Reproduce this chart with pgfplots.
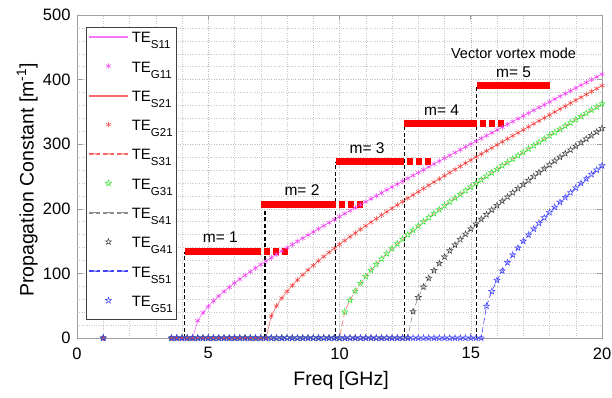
\documentclass[border=0pt]{standalone}
\usepackage{pgfplots}
\pgfplotsset{compat=1.18}
\usepackage{pgfplotstable}
\usepackage{fontspec}
\setmainfont{Liberation Sans}

\definecolor{mline}{rgb}{0.97,0.45,0.97}
\definecolor{mmark}{rgb}{0.95,0.25,0.95}
\definecolor{rline}{rgb}{0.97,0.40,0.40}
\definecolor{rmark}{rgb}{0.95,0.25,0.25}
\definecolor{gmark}{rgb}{0.20,0.90,0.20}
\definecolor{kmark}{rgb}{0.25,0.25,0.25}
\definecolor{bmark}{rgb}{0.25,0.25,1.00}
\definecolor{kline}{rgb}{0.55,0.55,0.55}

\pgfdeclareplotmark{pent}{%
  \pgfpathmoveto{\pgfpointpolar{90}{\pgfplotmarksize}}%
  \pgfpathlineto{\pgfpointpolar{126}{0.40\pgfplotmarksize}}%
  \pgfpathlineto{\pgfpointpolar{162}{\pgfplotmarksize}}%
  \pgfpathlineto{\pgfpointpolar{198}{0.40\pgfplotmarksize}}%
  \pgfpathlineto{\pgfpointpolar{234}{\pgfplotmarksize}}%
  \pgfpathlineto{\pgfpointpolar{270}{0.40\pgfplotmarksize}}%
  \pgfpathlineto{\pgfpointpolar{306}{\pgfplotmarksize}}%
  \pgfpathlineto{\pgfpointpolar{342}{0.40\pgfplotmarksize}}%
  \pgfpathlineto{\pgfpointpolar{18}{\pgfplotmarksize}}%
  \pgfpathlineto{\pgfpointpolar{54}{0.40\pgfplotmarksize}}%
  \pgfpathclose\pgfusepathqstroke}

\newcommand{\TE}[1]{\hspace{3pt}TE\raisebox{-6pt}{\fontsize{11.5}{11.5}\selectfont #1}}

\pgfplotsset{
  legsolid/.style={legend image code/.code={\fill[#1] (0pt,4pt) rectangle (38pt,5pt);}},
  legdash/.style={legend image code/.code={\fill[#1] (0pt,4pt) rectangle (10pt,5pt) (14pt,4pt) rectangle (24pt,5pt) (28pt,4pt) rectangle (38pt,5pt);}},
}

\pgfplotstableread{
f b1 b2 b3 b4 b5
1.0 0 0 0 0 0
3.6 0 0 0 0 0
3.8 0 0 0 0 0
4.0 0 0 0 0 0
4.2 0 0 0 0 0
4.4 0 0 0 0 0
4.6 26.7 0 0 0 0
4.8 39.2 0 0 0 0
5.0 48.9 0 0 0 0
5.2 57.4 0 0 0 0
5.4 65.0 0 0 0 0
5.6 72.0 0 0 0 0
5.8 78.6 0 0 0 0
6.0 85.0 0 0 0 0
6.2 91.0 0 0 0 0
6.4 96.9 0 0 0 0
6.6 102.6 0 0 0 0
6.8 108.2 0 0 0 0
7.0 113.7 0 0 0 0
7.2 119.0 0 0 0 0
7.4 124.3 34.0 0 0 0
7.6 129.5 49.7 0 0 0
7.8 134.6 61.8 0 0 0
8.0 139.7 72.2 0 0 0
8.2 144.7 81.4 0 0 0
8.4 149.6 89.9 0 0 0
8.6 154.5 97.9 0 0 0
8.8 159.4 105.4 0 0 0
9.0 164.2 112.5 0 0 0
9.2 169.0 119.4 0 0 0
9.4 173.8 126.1 0 0 0
9.6 178.5 132.5 0 0 0
9.8 183.2 138.8 0 0 0
10.0 187.9 144.9 0 0 0
10.2 192.5 150.9 40.5 0 0
10.4 197.2 156.8 58.7 0 0
10.6 201.8 162.5 72.7 0 0
10.8 206.4 168.2 84.7 0 0
11.0 211.0 173.8 95.3 0 0
11.2 215.5 179.3 105.0 0 0
11.4 220.1 184.8 114.1 0 0
11.6 224.6 190.2 122.6 0 0
11.8 229.2 195.5 130.7 0 0
12.0 233.7 200.7 138.5 0 0
12.2 238.2 206.0 145.9 0 0
12.4 242.6 211.1 153.1 0 0
12.6 247.1 216.3 160.1 0 0
12.8 251.6 221.4 166.9 41.0 0
13.0 256.0 226.4 173.6 62.8 0
13.2 260.5 231.4 180.1 79.0 0
13.4 264.9 236.4 186.5 92.6 0
13.6 269.4 241.4 192.7 104.6 0
13.8 273.8 246.3 198.8 115.6 0
14.0 278.2 251.2 204.9 125.7 0
14.2 282.6 256.1 210.8 135.1 0
14.4 287.0 260.9 216.7 144.1 0
14.6 291.4 265.8 222.5 152.7 0
14.8 295.8 270.6 228.2 160.9 0
15.0 300.2 275.4 233.9 168.9 0
15.2 304.6 280.1 239.5 176.5 0
15.4 309.0 284.9 245.0 184.0 0
15.6 313.3 289.6 250.5 191.2 49.4
15.8 317.7 294.3 255.9 198.3 72.1
16.0 322.1 299.0 261.3 205.2 89.4
16.2 326.4 303.7 266.7 212.0 104.0
16.4 330.8 308.4 272.0 218.6 116.9
16.6 335.1 313.1 277.3 225.1 128.7
16.8 339.5 317.7 282.5 231.6 139.6
17.0 343.8 322.3 287.7 237.9 149.9
17.2 348.1 327.0 292.9 244.1 159.6
17.4 352.5 331.6 298.0 250.2 168.8
17.6 356.8 336.2 303.1 256.3 177.7
17.8 361.1 340.8 308.2 262.3 186.2
18.0 365.5 345.3 313.3 268.2 194.5
18.2 369.8 349.9 318.3 274.1 202.5
18.4 374.1 354.5 323.3 279.9 210.2
18.6 378.4 359.0 328.3 285.6 217.8
18.8 382.7 363.6 333.2 291.3 225.2
19.0 387.0 368.1 338.2 296.9 232.5
19.2 391.3 372.6 343.1 302.5 239.6
19.4 395.6 377.1 348.0 308.1 246.5
19.6 399.9 381.6 352.9 313.6 253.4
19.8 404.2 386.1 357.7 319.0 260.1
20.0 408.5 390.6 362.6 324.5 266.7
}\modes

\begin{document}
\begin{tikzpicture}
\useasboundingbox (-77pt,-59pt) rectangle (535pt,338pt);
\begin{axis}[
  scale only axis, width=525pt, height=323pt,
  at={(0pt,0pt)}, anchor=south west,
  xmin=0, xmax=20, ymin=0, ymax=500,
  xtick={0,5,10,15,20}, ytick={0,100,200,300,400,500},
  minor x tick num=4, minor y tick num=4,
  grid=both,
  major grid style={dotted, gray!55, line width=0.5pt},
  minor grid style={dotted, gray!45, line width=0.5pt},
  axis line style={gray!75, line width=0.7pt},
  tick style={gray!75, line width=0.6pt},
  tick align=inside, tick pos=both,
  major tick length=5pt, minor tick length=0pt,
  /pgf/number format/assume math mode=true,
  ticklabel style={font=\fontsize{16.5}{16.5}\selectfont},
  xticklabel style={yshift=-6pt},
  yticklabel style={xshift=-3pt},
  xlabel={Freq [GHz]},
  ylabel={Propagation Constant [m\textsuperscript{-1}]},
  label style={font=\fontsize{19.5}{19.5}\selectfont},
  xlabel style={at={(axis description cs:0.503,-0.130)}, anchor=center},
  ylabel style={at={(axis description cs:-0.095,0.489)}, anchor=center, rotate=0},
  legend image code/.code={\draw[mark repeat=2,mark phase=2,#1] plot coordinates {(0pt,4.5pt) (19pt,4.5pt) (38pt,4.5pt)};},
  legend style={at={(axis description cs:0.017,0.963)}, anchor=north west,
    draw=black!75, line width=0.5pt, fill=white,
    font=\fontsize{15}{15}\selectfont,
    inner xsep=3pt, inner ysep=3.5pt, row sep=8.3pt,
    nodes={inner sep=1pt, text height=11pt, text depth=8pt}},
  legend cell align=left,
]
% TE_S11 / TE_G11
\addplot[mline, line width=0.6pt, mark=none, restrict x to domain=3:21,
  legsolid=mline] table[x=f,y=b1] {\modes};
\addlegendentry{\TE{S11}}
\addplot[only marks, mmark, mark=asterisk, mark size=2.8pt, line width=0.5pt] table[x=f,y=b1] {\modes};
\addlegendentry{\TE{G11}}
% TE_S21 / TE_G21
\addplot[rline, line width=0.6pt, mark=none, restrict x to domain=3:21,
  legsolid=rline] table[x=f,y=b2] {\modes};
\addlegendentry{\TE{S21}}
\addplot[only marks, rmark, mark=asterisk, mark size=2.8pt, line width=0.5pt] table[x=f,y=b2] {\modes};
\addlegendentry{\TE{G21}}
% TE_S31 / TE_G31
\addplot[rline, line width=0.6pt, dash pattern=on 6pt off 3pt, mark=none, restrict x to domain=3:21,
  legdash=rline] table[x=f,y=b3] {\modes};
\addlegendentry{\TE{S31}}
\addplot[only marks, gmark, mark=pent, mark size=3.2pt, line width=0.5pt] table[x=f,y=b3] {\modes};
\addlegendentry{\TE{G31}}
% TE_S41 / TE_G41
\addplot[kline, line width=0.6pt, dash pattern=on 6pt off 3pt, mark=none, restrict x to domain=3:21,
  legdash=kline] table[x=f,y=b4] {\modes};
\addlegendentry{\TE{S41}}
\addplot[only marks, kmark, mark=pent, mark size=3.2pt, line width=0.5pt] table[x=f,y=b4] {\modes};
\addlegendentry{\TE{G41}}
% TE_S51 / TE_G51
\addplot[bmark, line width=0.6pt, dash pattern=on 6pt off 3pt, mark=none, restrict x to domain=3:21,
  legdash=bmark] table[x=f,y=b5] {\modes};
\addlegendentry{\TE{S51}}
\addplot[only marks, bmark, mark=pent, mark size=3.2pt, line width=0.5pt] table[x=f,y=b5] {\modes};
\addlegendentry{\TE{G51}}

% vertical dashed cutoff lines
\addplot[forget plot, black, line width=1.2pt, dash pattern=on 4pt off 2.5pt] coordinates {(4.11,0) (4.11,133.6)};
\addplot[forget plot, black, line width=1.2pt, dash pattern=on 4pt off 2.5pt] coordinates {(7.16,0) (7.16,205.9)};
\addplot[forget plot, black, line width=1.2pt, dash pattern=on 4pt off 2.5pt] coordinates {(9.85,0) (9.85,272.5)};
\addplot[forget plot, black, line width=1.2pt, dash pattern=on 4pt off 2.5pt] coordinates {(12.47,0) (12.47,332.3)};
\addplot[forget plot, black, line width=1.2pt, dash pattern=on 4pt off 2.5pt] coordinates {(15.23,0) (15.23,391.6)};

% red bars (solid parts)
\addplot[forget plot, red, line width=7pt] coordinates {(4.11,133.6) (7.0,133.6)};
\addplot[forget plot, red, line width=7pt] coordinates {(7.0,205.9) (9.85,205.9)};
\addplot[forget plot, red, line width=7pt] coordinates {(9.85,272.5) (12.47,272.5)};
\addplot[forget plot, red, line width=7pt] coordinates {(12.47,332.3) (15.23,332.3)};
\addplot[forget plot, red, line width=7pt] coordinates {(15.23,391.6) (18.03,391.6)};
% red bars (dashed continuations)
\addplot[forget plot, red, line width=7pt, dash pattern=on 6pt off 3pt, dash phase=6pt] coordinates {(7.0,133.6) (8.03,133.6)};
\addplot[forget plot, red, line width=7pt, dash pattern=on 6pt off 3pt, dash phase=6pt] coordinates {(9.85,205.9) (10.88,205.9)};
\addplot[forget plot, red, line width=7pt, dash pattern=on 6pt off 3pt, dash phase=6pt] coordinates {(12.47,272.5) (13.50,272.5)};
\addplot[forget plot, red, line width=7pt, dash pattern=on 6pt off 3pt, dash phase=6pt] coordinates {(15.23,332.3) (16.26,332.3)};

\node[font=\fontsize{15.5}{15.5}\selectfont, anchor=center] at (axis cs:5.46,156.8) {m= 1};
\node[font=\fontsize{15.5}{15.5}\selectfont, anchor=center] at (axis cs:8.57,229) {m= 2};
\node[font=\fontsize{15.5}{15.5}\selectfont, anchor=center] at (axis cs:11.05,294) {m= 3};
\node[font=\fontsize{15.5}{15.5}\selectfont, anchor=center] at (axis cs:13.89,353) {m= 4};
\node[font=\fontsize{15.5}{15.5}\selectfont, anchor=center] at (axis cs:16.63,410.7) {m= 5};
\node[font=\fontsize{14.5}{14.5}\selectfont, anchor=center] at (axis cs:16.63,440) {Vector vortex mode};
\end{axis}
\end{tikzpicture}
\end{document}
